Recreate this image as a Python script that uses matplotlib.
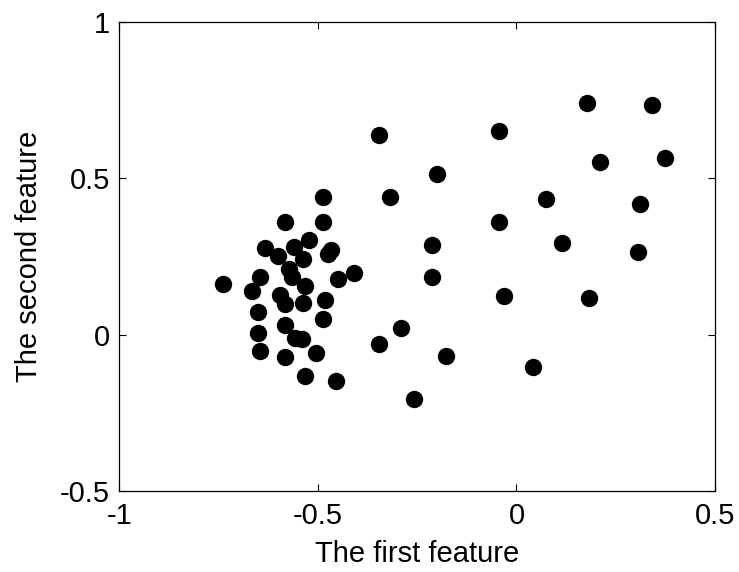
import matplotlib
matplotlib.use('Agg')
import matplotlib.pyplot as plt

# Feature values
first_feature = [
    -0.347, -0.043, 0.177, 0.341, 0.210, 0.374, -0.201, -0.488, -0.319, 0.074,
    0.311, -0.488, -0.043, -0.212, 0.115, 0.307, -0.212, -0.032, 0.182, -0.291,
    -0.347, -0.178, 0.042, -0.257, -0.410, -0.449, -0.482, -0.488, -0.455, -0.505,
    -0.466, -0.476, -0.583, -0.522, -0.634, -0.600, -0.560, -0.539, -0.572, -0.566,
    -0.646, -0.667, -0.740, -0.533, -0.596, -0.583, -0.539, -0.650, -0.583, -0.650,
    -0.558, -0.541, -0.646, -0.583, -0.533,
]
second_feature = [
    0.639, 0.652, 0.742, 0.735, 0.551, 0.565, 0.514, 0.440, 0.440, 0.433,
    0.418, 0.359, 0.359, 0.286, 0.293, 0.263, 0.184, 0.125, 0.117, 0.021,
    -0.031, -0.067, -0.103, -0.207, 0.198, 0.177, 0.110, 0.051, -0.148, -0.060,
    0.271, 0.258, 0.361, 0.303, 0.276, 0.252, 0.279, 0.241, 0.209, 0.184,
    0.184, 0.141, 0.162, 0.156, 0.127, 0.098, 0.102, 0.074, 0.031, 0.004,
    -0.012, -0.015, -0.052, -0.072, -0.132,
]

x_ticks = [-1, -0.5, 0, 0.5]
x_tick_labels = ['-1', '-0.5', '0', '0.5']
y_ticks = [-0.5, 0, 0.5, 1]
y_tick_labels = ['-0.5', '0', '0.5', '1']

plt.rcParams['font.family'] = ['Liberation Sans', 'DejaVu Sans']

fig = plt.figure(figsize=(7.39, 5.72), dpi=100)
ax = fig.add_axes([0.1617, 0.1416, 0.8058, 0.8199])

ax.plot(first_feature, second_feature, 'o', color='black', markersize=12.5,
        markeredgewidth=0)

ax.set_xlim(-1, 0.5)
ax.set_ylim(-0.5, 1)
ax.set_xticks(x_ticks)
ax.set_xticklabels(x_tick_labels)
ax.set_yticks(y_ticks)
ax.set_yticklabels(y_tick_labels)
ax.tick_params(direction='in', length=5, width=0.8, top=True, right=True,
               labelsize=21, pad=7)
ax.tick_params(axis='x', pad=8)
for s in ax.spines.values():
    s.set_linewidth(0.9)

ax.set_xlabel('The first feature', fontsize=21, labelpad=7)
ax.set_ylabel('The second feature', fontsize=21, labelpad=12)

fig.savefig('out.png', dpi=100)
